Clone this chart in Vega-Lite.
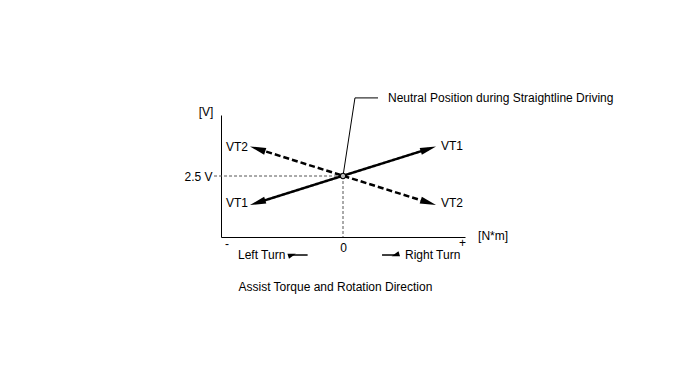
{
  "$schema": "https://vega.github.io/schema/vega-lite/v6.json",
  "width": 244,
  "height": 122,
  "autosize": {"type": "none"},
  "padding": {"left": 221, "top": 115, "right": 223, "bottom": 129},
  "background": "white",
  "config": {
    "view": {"stroke": null},
    "font": "Liberation Sans",
    "text": {"font": "Liberation Sans", "fontSize": 12, "color": "black"},
    "axis": {"labelFont": "Liberation Sans", "labelFontSize": 12, "labelColor": "black", "domainColor": "black", "domainWidth": 1, "ticks": false, "tickSize": 0, "grid": false, "title": null}
  },
  "datasets": {
    "curves": [
      {"line": "VT1", "torque": -0.7, "volt": 1.41},
      {"line": "VT1", "torque": 0.7, "volt": 3.61},
      {"line": "VT2", "torque": -0.7, "volt": 3.61},
      {"line": "VT2", "torque": 0.7, "volt": 1.41}
    ],
    "heads": [
      {"line": "VT1", "dir": "down-left", "torque": -0.7, "volt": 1.41},
      {"line": "VT1", "dir": "up-right", "torque": 0.7, "volt": 3.61},
      {"line": "VT2", "dir": "up-left", "torque": -0.7, "volt": 3.61},
      {"line": "VT2", "dir": "down-right", "torque": 0.7, "volt": 1.41}
    ],
    "guides": [
      {"guide": "h", "torque": -1.057, "volt": 2.5},
      {"guide": "h", "torque": 0, "volt": 2.5},
      {"guide": "v", "torque": 0, "volt": 2.5},
      {"guide": "v", "torque": 0, "volt": 0}
    ],
    "leader": [
      {"torque": 0, "volt": 2.5},
      {"torque": 0.098, "volt": 5.7},
      {"torque": 0.287, "volt": 5.7}
    ],
    "neutral": [{"torque": 0, "volt": 2.5}],
    "turnArrows": [
      {"side": "left", "torque": -0.418, "volt": -0.738},
      {"side": "left", "torque": -0.29, "volt": -0.738},
      {"side": "right", "torque": 0.32, "volt": -0.738},
      {"side": "right", "torque": 0.43, "volt": -0.738}
    ],
    "turnHeads": [
      {"dir": "left", "torque": -0.418, "volt": -0.738},
      {"dir": "right", "torque": 0.43, "volt": -0.738}
    ],
    "centerLabels": [
      {"label": "VT2", "torque": -0.869, "volt": 3.67},
      {"label": "VT1", "torque": -0.869, "volt": 1.38},
      {"label": "VT1", "torque": 0.893, "volt": 3.73},
      {"label": "VT2", "torque": 0.893, "volt": 1.38},
      {"label": "[V]", "torque": -1.123, "volt": 5.12},
      {"label": "-", "torque": -0.95, "volt": -0.29},
      {"label": "+", "torque": 0.98, "volt": -0.25},
      {"label": "Assist Torque and Rotation Direction", "torque": -0.062, "volt": -2.03}
    ],
    "leftLabels": [
      {"label": "Neutral Position during Straightline Driving", "torque": 0.369, "volt": 5.7},
      {"label": "[N*m]", "torque": 1.107, "volt": 0.04},
      {"label": "Left Turn", "torque": -0.861, "volt": -0.738},
      {"label": "Right Turn", "torque": 0.508, "volt": -0.738}
    ]
  },
  "encoding": {
    "x": {"field": "torque", "type": "quantitative", "scale": {"domain": [-1, 1], "nice": false, "zero": false}, "axis": {"values": [0], "labelPadding": 5, "orient": "bottom"}},
    "y": {"field": "volt", "type": "quantitative", "scale": {"domain": [0, 5], "nice": false, "zero": false}, "axis": {"values": [2.5], "labelExpr": "'2.5 V'", "labelPadding": 9, "orient": "left"}}
  },
  "layer": [
    {
      "data": {"name": "guides"},
      "mark": {"type": "line", "color": "#555555", "strokeWidth": 1, "strokeDash": [3, 2]},
      "encoding": {"detail": {"field": "guide"}}
    },
    {
      "data": {"name": "curves"},
      "mark": {"type": "line", "color": "black", "strokeWidth": 2.5, "strokeCap": "butt"},
      "encoding": {
        "detail": {"field": "line"},
        "strokeDash": {"field": "line", "type": "nominal", "scale": {"domain": ["VT1", "VT2"], "range": [[1, 0], [6, 3]]}, "legend": null}
      }
    },
    {
      "data": {"name": "heads"},
      "mark": {"type": "point", "shape": "M0,-1L-0.45,1L0.45,1Z", "filled": true, "color": "black", "size": 256, "opacity": 1},
      "encoding": {
        "angle": {"field": "dir", "type": "nominal", "scale": {"type": "ordinal", "domain": ["up-right", "down-left", "up-left", "down-right"], "range": [72.5, 252.5, 287.5, 107.5]}, "legend": null}
      }
    },
    {
      "data": {"name": "leader"},
      "mark": {"type": "line", "color": "black", "strokeWidth": 1},
      "encoding": {}
    },
    {
      "data": {"name": "neutral"},
      "mark": {"type": "point", "shape": "circle", "size": 30, "filled": false, "fill": "#bbbbbb", "stroke": "black", "strokeWidth": 1.2, "opacity": 1},
      "encoding": {}
    },
    {
      "data": {"name": "turnArrows"},
      "mark": {"type": "line", "color": "black", "strokeWidth": 1.5},
      "encoding": {"detail": {"field": "side"}}
    },
    {
      "data": {"name": "turnHeads"},
      "mark": {"type": "point", "shape": "M0,-1L-0.65,1L0.65,1Z", "filled": true, "color": "black", "size": 64, "opacity": 1},
      "encoding": {
        "angle": {"field": "dir", "type": "nominal", "scale": {"type": "ordinal", "domain": ["left", "right"], "range": [270, 90]}, "legend": null}
      }
    },
    {
      "data": {"name": "centerLabels"},
      "mark": {"type": "text", "align": "center", "baseline": "middle"},
      "encoding": {"text": {"field": "label"}}
    },
    {
      "data": {"name": "leftLabels"},
      "mark": {"type": "text", "align": "left", "baseline": "middle"},
      "encoding": {"text": {"field": "label"}}
    }
  ]
}
